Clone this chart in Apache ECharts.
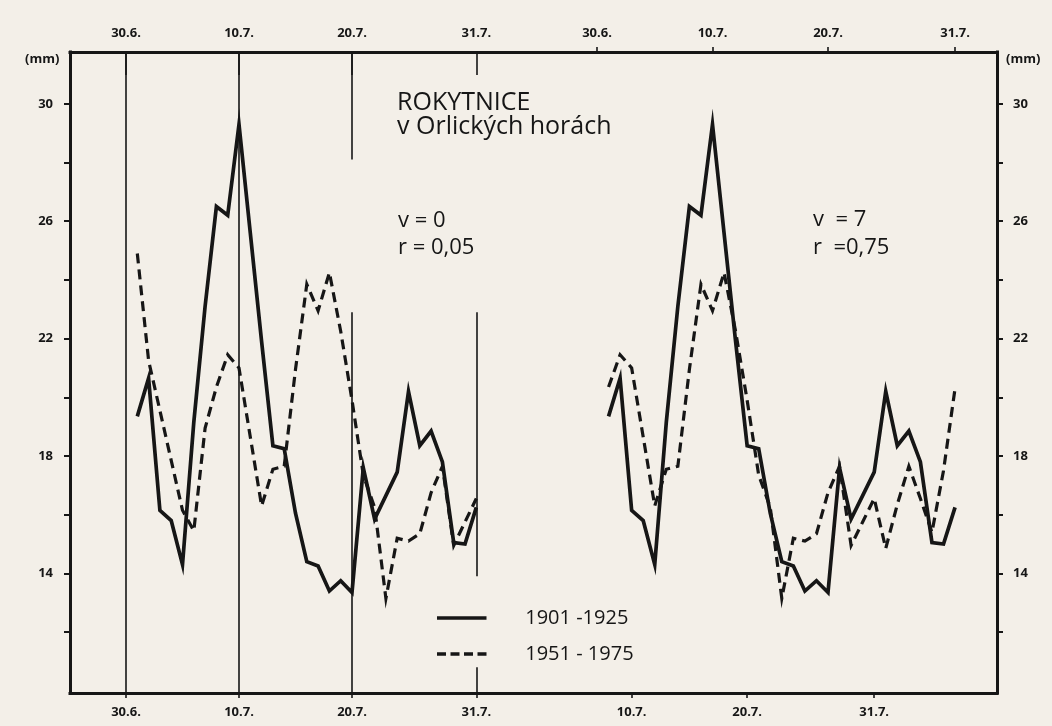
<!DOCTYPE html>
<html><head><meta charset="utf-8">
<script src="https://cdn.jsdelivr.net/npm/echarts@6/dist/echarts.min.js"></script>
<style>html,body{margin:0;padding:0;background:#f3efe8}#c{width:1052px;height:726px}</style>
</head><body><div id="c"></div>
<script>
// Day index: 0 = 30.6., 10 = 10.7., 20 = 20.7., 31 = 31.7.
const tickDays = [0, 10, 20, 31];
const tickLabels = ['30.6.', '10.7.', '20.7.', '31.7.'];
const lagTickDays = [10, 20, 31];
const lagTickLabels = ['10.7.', '20.7.', '31.7.'];
const yLabelValues = [14, 18, 22, 26, 30];
const yTickValues = [12, 14, 16, 18, 20, 22, 24, 26, 28, 30];
const lagDays = 7;
const seriesNames = ['1901 -1925', '1951 - 1975'];

// 1901-1925, days 1..31 (1.7. - 31.7.)
const days1901 = [1,2,3,4,5,6,7,8,9,10,11,12,13,14,15,16,17,18,19,20,21,22,23,24,25,26,27,28,29,30,31];
const values1901 = [19.35, 20.65, 16.15, 15.8, 14.3, 19.15, 23.1, 26.5, 26.2, 29.3,
  25.6, 21.9, 18.35, 18.25, 16.05, 14.4, 14.25, 13.4, 13.75, 13.35,
  17.6, 15.85, 16.65, 17.45, 20.2, 18.35, 18.85, 17.8, 15.05, 15.0, 16.25];

// 1951-1975, days 1..38 (1.7. - 7.8.)
const days1951 = [1,2,3,4,5,6,7,8,9,10,11,12,13,14,15,16,17,18,19,20,21,22,23,24,25,26,27,28,29,30,31,32,33,34,35,36,37,38];
const values1951 = [24.9, 21.25, 19.55, 17.85, 16.15, 15.45, 18.95, 20.35, 21.45, 21.0,
  18.65, 16.3, 17.55, 17.65, 20.95, 23.85, 22.95, 24.25, 22.25, 19.9,
  17.35, 16.25, 13.15, 15.2, 15.1, 15.35, 16.75, 17.65, 14.95, 15.75,
  16.55, 14.85, 16.35, 17.65, 16.55, 15.4, 17.5, 20.3];

// Reference lines in the left panel: [day, from value, to value] (null = frame edge)
const gridSegments = [[0, null, null], [10, null, null], [20, 28.1, null], [20, null, 22.9], [31, 22.9, 13.9], [31, null, 10.8]];

const FRAME = {left: 70, right: 997, top: 52, bottom: 693};
const LEFT_DAY0_X = 126, LEFT_PX_DAY = 11.3;
const RIGHT_DAY0_X = 597, RIGHT_PX_DAY = 11.55;
const Y22 = 338.6, PX_MM = 29.35;
const yMin = 22 - (FRAME.bottom - Y22) / PX_MM;
const yMax = 22 + (Y22 - FRAME.top) / PX_MM;
const lMin = -(LEFT_DAY0_X - FRAME.left) / LEFT_PX_DAY, lMax = (FRAME.right - LEFT_DAY0_X) / LEFT_PX_DAY;
const rMin = -(RIGHT_DAY0_X - FRAME.left) / RIGHT_PX_DAY, rMax = (FRAME.right - RIGHT_DAY0_X) / RIGHT_PX_DAY;

const INK = '#161616';
const FONT = "'Open Sans', 'DejaVu Sans', sans-serif";
function tickFont(extra) { return Object.assign({fontFamily: FONT, fontWeight: 'bold', fontSize: 13, color: INK}, extra); }

function pairs(days, vals, from, to) {
  const out = [];
  for (let i = 0; i < days.length; i++) if (days[i] >= from && days[i] <= to) out.push([days[i], vals[i]]);
  return out;
}
function labelOf(days, labels) { return v => { const i = days.indexOf(Math.round(v)); return i < 0 ? '' : labels[i]; }; }

function gridRect() { return {left: FRAME.left, top: FRAME.top, width: FRAME.right - FRAME.left, height: FRAME.bottom - FRAME.top}; }
function frameLine(onZero) { const o = {show: true, lineStyle: {color: INK, width: 3, cap: 'square'}}; if (onZero === false) o.onZero = false; return o; }
function tick(len, inside, values, w) { return {show: true, inside: inside, length: len, customValues: values, lineStyle: {color: INK, width: w}}; }

const solidStyle = {color: INK, width: 3.7, join: 'miter', cap: 'butt'};
const dashStyle = {color: INK, width: 3.2, type: [10, 6], join: 'miter', cap: 'butt'};

const option = {
  animation: false,
  backgroundColor: '#f3efe8',
  grid: [gridRect(), gridRect()],
  xAxis: [
    {gridIndex: 0, type: 'value', position: 'bottom', min: lMin, max: lMax,
     axisLine: frameLine(), splitLine: {show: false},
     axisTick: tick(5, false, tickDays, 1.6),
     axisLabel: tickFont({customValues: tickDays, formatter: labelOf(tickDays, tickLabels), margin: 13})},
    {gridIndex: 0, type: 'value', position: 'top', min: lMin, max: lMax,
     axisLine: frameLine(), splitLine: {show: false},
     axisTick: tick(23, true, tickDays, 1.6),
     axisLabel: tickFont({customValues: tickDays, formatter: labelOf(tickDays, tickLabels), margin: 12})},
    {gridIndex: 1, type: 'value', position: 'top', min: rMin, max: rMax,
     axisLine: {show: false}, splitLine: {show: false},
     axisTick: tick(5, false, tickDays, 1.6),
     axisLabel: tickFont({customValues: tickDays, formatter: labelOf(tickDays, tickLabels), margin: 12})},
    {gridIndex: 1, type: 'value', position: 'bottom', min: rMin + lagDays, max: rMax + lagDays,
     axisLine: {show: false}, splitLine: {show: false},
     axisTick: tick(5, false, lagTickDays, 1.6),
     axisLabel: tickFont({customValues: lagTickDays, formatter: labelOf(lagTickDays, lagTickLabels), margin: 13})}
  ],
  yAxis: [
    {gridIndex: 0, type: 'value', position: 'left', min: yMin, max: yMax,
     axisLine: frameLine(false), splitLine: {show: false},
     axisTick: tick(6, false, yTickValues, 2),
     axisLabel: tickFont({customValues: yLabelValues, margin: 17})},
    {gridIndex: 0, type: 'value', position: 'right', min: yMin, max: yMax,
     axisLine: frameLine(false), splitLine: {show: false},
     axisTick: tick(6, false, yTickValues, 2),
     axisLabel: tickFont({customValues: yLabelValues, margin: 16})},
    {gridIndex: 1, type: 'value', min: yMin, max: yMax, show: false, axisLine: {show: false, onZero: false}}
  ],
  legend: {
    data: [
      {name: seriesNames[0], icon: 'path://M0,0H55V4H0Z'},
      {name: seriesNames[1], icon: 'path://M0,0H10V4H0Z M15,0H25V4H15Z M30,0H40V4H30Z M45,0H55V4H45Z'}
    ],
    orient: 'vertical', left: 437, top: 608, padding: 0, itemWidth: 55, itemHeight: 3.6, itemGap: 16,
    selectedMode: false,
    textStyle: {fontFamily: FONT, fontSize: 20, lineHeight: 20, color: INK, padding: [0, 0, 0, 31]}
  },
  graphic: [
    {type: 'text', left: 25, top: 53, style: {text: '(mm)', font: "bold 13px 'Open Sans'", fill: INK}},
    {type: 'text', left: 1006, top: 53, style: {text: '(mm)', font: "bold 13px 'Open Sans'", fill: INK}},
    {type: 'text', left: 397, top: 90, style: {text: 'ROKYTNICE', font: "25px 'Open Sans'", fill: INK}},
    {type: 'text', left: 397, top: 114, style: {text: 'v Orlických horách', font: "25px 'Open Sans'", fill: INK}},
    {type: 'text', left: 398, top: 210, style: {text: 'v = 0', font: "22px 'Open Sans'", fill: INK}},
    {type: 'text', left: 398, top: 237, style: {text: 'r = 0,05', font: "22px 'Open Sans'", fill: INK}},
    {type: 'text', left: 813, top: 209, style: {text: 'v  = 7', font: "22px 'Open Sans'", fill: INK}},
    {type: 'text', left: 813, top: 237, style: {text: 'r  =0,75', font: "22px 'Open Sans'", fill: INK}}
  ],
  series: [
    {name: seriesNames[0], type: 'line', xAxisIndex: 0, yAxisIndex: 0, data: pairs(days1901, values1901, 1, 31),
     symbol: 'none', lineStyle: solidStyle, itemStyle: {color: INK}, silent: true, z: 3,
     markLine: {silent: true, symbol: ['none', 'none'], label: {show: false}, emphasis: {disabled: true},
       lineStyle: {color: INK, width: 1.6, type: 'solid'},
       data: gridSegments.map(s => [{coord: [s[0], s[1] === null ? yMin : s[1]]}, {coord: [s[0], s[2] === null ? yMax : s[2]]}])}},
    {name: seriesNames[1], type: 'line', xAxisIndex: 0, yAxisIndex: 0, data: pairs(days1951, values1951, 1, 31),
     symbol: 'none', lineStyle: dashStyle, itemStyle: {color: INK}, silent: true, z: 3},
    {name: seriesNames[0], type: 'line', xAxisIndex: 2, yAxisIndex: 2, data: pairs(days1901, values1901, 1, 31),
     symbol: 'none', lineStyle: solidStyle, itemStyle: {color: INK}, silent: true, z: 3},
    {name: seriesNames[1], type: 'line', xAxisIndex: 3, yAxisIndex: 2, data: pairs(days1951, values1951, 1 + lagDays, 31 + lagDays),
     symbol: 'none', lineStyle: dashStyle, itemStyle: {color: INK}, silent: true, z: 3}
  ]
};
const chart = echarts.init(document.getElementById('c'), null, {renderer: 'canvas'});
chart.setOption(option);
</script></body></html>
